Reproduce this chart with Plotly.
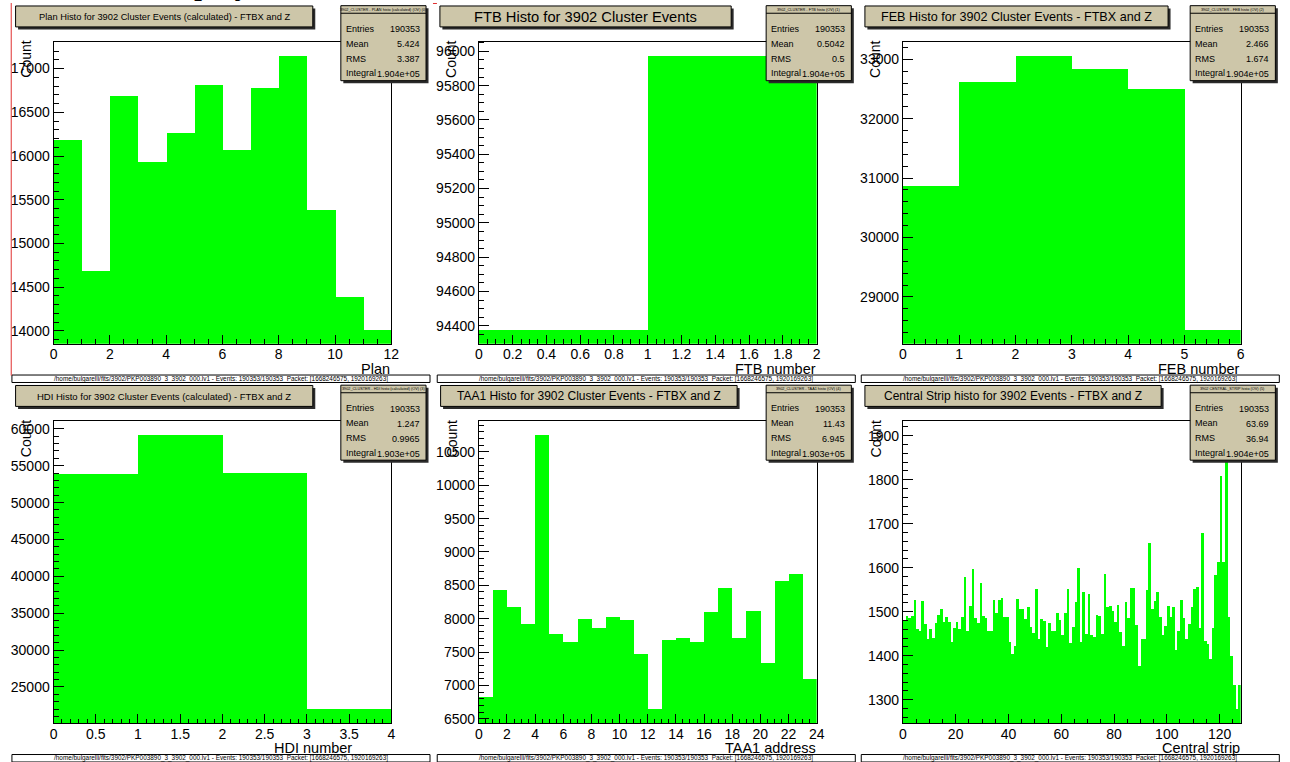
import numpy as np
import plotly.graph_objects as go

W, H = 1290, 762

# ---------------- histogram contents (one value per bin) ----------------
plan_counts = [16188, 14688, 16692, 15937, 16263, 16822, 16074, 16780, 17152, 15386, 14395, 14012]
ftb_counts = [94376, 95977]
feb_counts = [30882, 32630, 33067, 32849, 32504, 28445]
hdi_counts = [53850, 59200, 54000, 21950]
taa1_counts = [6819, 8429, 8180, 7926, 10758, 7776, 7652, 8001, 7861, 8031, 7981, 7472,
               6639, 7687, 7706, 7652, 8105, 8454, 7706, 8120, 7333, 8569, 8664, 7098]
strip_counts = [
    1482, 1490, 1486, 1490, 1526, 1460, 1457, 1524, 1472, 1437,
    1460, 1441, 1475, 1492, 1505, 1476, 1488, 1476, 1432, 1462,
    1477, 1460, 1487, 1578, 1455, 1512, 1596, 1485, 1474, 1565,
    1491, 1485, 1455, 1457, 1526, 1498, 1526, 1532, 1487, 1489,
    1431, 1403, 1423, 1529, 1507, 1507, 1483, 1511, 1466, 1451,
    1551, 1438, 1483, 1478, 1419, 1474, 1457, 1455, 1496, 1481,
    1448, 1496, 1551, 1428, 1466, 1523, 1600, 1430, 1545, 1449,
    1540, 1448, 1442, 1492, 1491, 1449, 1585, 1511, 1514, 1502,
    1477, 1515, 1453, 1421, 1523, 1485, 1553, 1553, 1470, 1376,
    1438, 1438, 1549, 1655, 1506, 1525, 1545, 1487, 1447, 1467,
    1514, 1487, 1510, 1412, 1457, 1526, 1485, 1438, 1472, 1510,
    1551, 1557, 1462, 1679, 1434, 1427, 1393, 1463, 1583, 1613,
    1808, 1612, 1902, 1487, 1400, 1334, 1278, 1334,
]

# ---------------- texts ----------------
hist_titles = [
    "Plan Histo for 3902 Cluster Events (calculated) - FTBX and Z",
    "FTB Histo for 3902 Cluster Events",
    "FEB Histo for 3902 Cluster Events - FTBX and Z",
    "HDI Histo for 3902 Cluster Events (calculated) - FTBX and Z",
    "TAA1 Histo for 3902 Cluster Events - FTBX and Z",
    "Central Strip histo for 3902 Events - FTBX and Z",
]
x_titles = ["Plan", "FTB number", "FEB number", "HDI number", "TAA1 address", "Central strip"]
stat_headers = [
    "3902_CLUSTER - PLAN histo (calculated) (OV) (0)",
    "3902_CLUSTER - FTB histo (OV) (1)",
    "3902_CLUSTER - FEB histo (OV) (2)",
    "3902_CLUSTER - HDI histo (calculated) (OV) (3)",
    "3902_CLUSTER - TAA1 histo (OV) (4)",
    "3902 CENTRAL_STRIP histo (OV) (5)",
]
stat_entries = ["190353"] * 6
stat_means = ["5.424", "0.5042", "2.466", "1.247", "11.43", "63.69"]
stat_rms = ["3.387", "0.5", "1.674", "0.9965", "6.945", "36.94"]
stat_integrals = ["1.904e+05", "1.904e+05", "1.904e+05", "1.903e+05", "1.903e+05", "1.904e+05"]
footer_text = ("/home/bulgarelli/fits/3902/PKP003890_3_3902_000.lv1 - Events: 190353/190353  "
               "Packet: [1668246575, 1920169263]")
page_heading = "Quicklook display"

# ---------------- style / layout helpers ----------------
FONT = "Liberation Sans, Arial, Helvetica, sans-serif"
SERIF = "Liberation Serif, Times New Roman, serif"
BEIGE = "#cdc6a9"
SHADOW = "#2b2b2b"
GREEN = "#00ff00"


def X(p):
    return p / W


def Y(p):
    return 1 - p / H


col_off = [0.0, 429.3, 857.3]
row_off = [0.0, 381.0]

panels = [
    dict(counts=plan_counts, lo=0, hi=12, xdt=2, xminor=0.5, ydt=500, yminor=100,
         title_box=(11.7, 311.7), tfs=9.3, xt_right=391),
    dict(counts=ftb_counts, lo=0, hi=2, xdt=0.2, xminor=0.05, ydt=200, yminor=50,
         title_box=(10.7, 304.7), tfs=14.7, xt_right=391),
    dict(counts=feb_counts, lo=0, hi=6, xdt=1, xminor=0.2, ydt=1000, yminor=200,
         title_box=(11.7, 317.7), tfs=12.6, xt_right=391),
    dict(counts=hdi_counts, lo=0, hi=4, xdt=0.5, xminor=0.1, ydt=5000, yminor=1000,
         title_box=(11.7, 311.7), tfs=9.5, xt_right=352),
    dict(counts=taa1_counts, lo=0, hi=24, xdt=2, xminor=0.5, ydt=500, yminor=100,
         title_box=(11.4, 310.7), tfs=12.0, xt_right=391),
    dict(counts=strip_counts, lo=0, hi=128, xdt=20, xminor=5, ydt=100, yminor=20,
         title_box=(11.7, 310.7), tfs=12.0, xt_right=391),
]

fig = go.Figure()
axes = {}
shapes = []
annotations = []


def rect(x0, y0, x1, y1, fill, line_color=None, lw=0):
    shapes.append(dict(type="rect", xref="paper", yref="paper", layer="above",
                       x0=X(x0), x1=X(x1), y0=Y(y1), y1=Y(y0), fillcolor=fill,
                       line=dict(color=line_color or fill, width=lw)))


def hline(x0, x1, y, color="black", lw=1):
    shapes.append(dict(type="line", xref="paper", yref="paper", layer="above",
                       x0=X(x0), x1=X(x1), y0=Y(y), y1=Y(y), line=dict(color=color, width=lw)))


def text(x, y, s, size, xanchor="center", yanchor="middle", angle=0, family=FONT, color="black"):
    annotations.append(dict(x=X(x), y=Y(y), xref="paper", yref="paper", text=s, showarrow=False,
                            xanchor=xanchor, yanchor=yanchor, textangle=angle,
                            font=dict(family=family, size=size, color=color), borderpad=0))


for i, p in enumerate(panels):
    idx = i + 1
    ox = col_off[i % 3]
    oy = row_off[i // 3]
    fx0, fx1 = 50 + ox, 391 + ox
    fy0, fy1 = 41.7 + oy, 345 + oy

    counts = np.asarray(p["counts"], dtype=float)
    edges = np.linspace(p["lo"], p["hi"], len(counts) + 1)
    centers = 0.5 * (edges[:-1] + edges[1:])
    bw = edges[1] - edges[0]
    # vertical range: 5 % of the content spread above and below
    spread = counts.max() - counts.min()
    yrange = [counts.min() - 0.05 * spread, counts.max() + 0.05 * spread]

    xa = "x" if idx == 1 else f"x{idx}"
    ya = "y" if idx == 1 else f"y{idx}"
    fig.add_trace(go.Bar(x=centers, y=counts, width=bw, xaxis=xa, yaxis=ya,
                         marker=dict(color=GREEN, line=dict(width=0)),
                         hoverinfo="skip", showlegend=False))

    common = dict(showline=True, linecolor="black", linewidth=1, mirror=True,
                  ticks="inside", tickcolor="black", tickwidth=1, showgrid=False,
                  zeroline=False, fixedrange=True,
                  tickfont=dict(family=FONT, size=14, color="black"))
    axes["xaxis" if idx == 1 else f"xaxis{idx}"] = dict(
        common, domain=[X(fx0), X(fx1)], anchor=ya, range=[p["lo"], p["hi"]],
        tick0=p["lo"], dtick=p["xdt"], ticklen=9, ticklabelstandoff=-2,
        minor=dict(dtick=p["xminor"], ticks="inside", ticklen=4.5, tickcolor="black",
                   tickwidth=1, showgrid=False))
    axes["yaxis" if idx == 1 else f"yaxis{idx}"] = dict(
        common, domain=[Y(fy1), Y(fy0)], anchor=xa, range=yrange,
        dtick=p["ydt"], tick0=0, ticklen=10, tickformat="d",
        minor=dict(dtick=p["yminor"], ticks="inside", ticklen=5, tickcolor="black",
                   tickwidth=1, showgrid=False))

    # axis titles
    text(22.5 + ox, 40 + oy, "Count", 14, yanchor="top", angle=-90)
    text(p["xt_right"] + ox, 370 + oy, x_titles[i], 14.5, xanchor="right")

    # histogram title box with shadow
    tx0, tx1 = p["title_box"]
    tx0 += ox
    tx1 += ox
    ty0, ty1 = 6 + oy, 27 + oy
    rect(tx0 + 2.5, ty0 + 2.5, tx1 + 2.5, ty1 + 2.5, SHADOW)
    rect(tx0, ty0, tx1, ty1, BEIGE, "black", 1)
    text((tx0 + tx1) / 2, (ty0 + ty1) / 2 + 0.5, hist_titles[i], p["tfs"])

    # statistics box
    sx0, sx1 = 340 + ox, 426 + ox
    sy0, sy1 = 5.7 + oy, 81 + oy
    rect(sx0 + 2.5, sy0 + 2.5, sx1 + 2.5, sy1 + 2.5, SHADOW)
    rect(sx0, sy0, sx1, sy1, BEIGE, "black", 1)
    hline(sx0, sx1, sy0 + 7.6, "black", 1)
    text((sx0 + sx1) / 2, sy0 + 3.9, stat_headers[i], 3.8)
    rows = [("Entries", stat_entries[i]), ("Mean", stat_means[i]),
            ("RMS", stat_rms[i]), ("Integral", stat_integrals[i])]
    for k, (lab, val) in enumerate(rows):
        yy = sy0 + 23.3 + 14.9 * k
        text(sx0 + 4, yy, lab, 9.0, xanchor="left")
        text(sx1 - 5, yy + 0.6, val, 9.0, xanchor="right")

    # file footer strip
    bx0, bx1 = 8 + ox, 430 + ox
    by0, by1 = 376.5 + oy, 384 + oy
    rect(bx0, by0, bx1, by1, "white", "black", 1)
    text((bx0 + bx1) / 2, (by0 + by1) / 2, footer_text, 6.4)

# selection markers of the canvas
shapes.append(dict(type="line", xref="paper", yref="paper", layer="above",
                   x0=X(7.3), x1=X(7.3), y0=Y(377), y1=Y(3), line=dict(color="#e03030", width=1)))
hline(433, 437, 3.5, "#e03030", 1)

# page heading running off the top edge
annotations.append(dict(x=X(3), y=1, xref="paper", yref="paper", text=page_heading,
                        showarrow=False, xanchor="left", yanchor="bottom", yshift=-2,
                        font=dict(family=SERIF, size=33, color="black"), borderpad=0))

fig.update_layout(
    width=W, height=H, margin=dict(l=0, r=0, t=0, b=0),
    paper_bgcolor="white", plot_bgcolor="white",
    bargap=0, barmode="overlay", showlegend=False,
    shapes=shapes, annotations=annotations, **axes,
)

fig.write_html("out.html")
